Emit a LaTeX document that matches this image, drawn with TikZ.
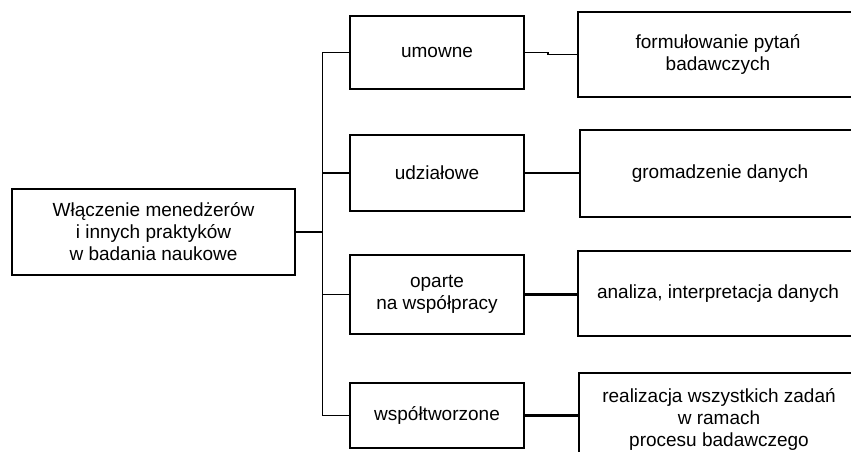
\documentclass[tikz,border=0pt]{standalone}
\usepackage{fontspec}
\setmainfont{Liberation Sans}
\begin{document}
\begin{tikzpicture}[x=1pt,y=-1pt,
    box/.style={draw, line width=1.8pt, align=center, inner sep=0pt,
      font=\fontsize{19}{22}\selectfont},
    thin link/.style={line width=1.5pt},
    thick link/.style={line width=2.4pt}]
      \clip (0,0) rectangle (851,452);
      \node[box, minimum width=283, minimum height=86] (main) at (153.5,232) {Włączenie menedżerów\\ i innych praktyków\\ w badania naukowe};
      \node[box, minimum width=174, minimum height=73] (um) at (437,52.5) {umowne};
      \node[box, minimum width=174, minimum height=76] (ud) at (437,173) {udziałowe};
      \node[box, minimum width=174, minimum height=79] (op) at (437,294.5) {oparte\\ na współpracy};
      \node[box, minimum width=174, minimum height=65] (ws) at (437,415.5) {współtworzone};
      \node[box, minimum width=280, minimum height=85] (r1) at (718,54.5) {formułowanie pytań\\ badawczych};
      \node[box, minimum width=280, minimum height=87] (r2) at (720,173.5) {gromadzenie danych};
      \node[box, minimum width=280, minimum height=85] (r3) at (718,293.5) {analiza, interpretacja danych};
      \node[box, minimum width=280, minimum height=92] (r4) at (719,419) {realizacja wszystkich zadań\\ w ramach\\ procesu badawczego};
      \coordinate (top) at (322.5,52.5); \coordinate (bot) at (322.5,415.5);
      \draw[thin link] (um.west) -- (top) -- (bot) -- (ws.west);
      \draw[thin link] (main.east) -- (main.east -| top);
      \draw[thin link] (ud.west) -- (ud.west -| top);
      \draw[thin link] (op.west) -- (op.west -| top);
      \draw[thin link] (um.east) -- ++(23,0) |- (r1.west);
      \draw[thick link] (ud.east) -- (ud.east -| r2.west);
      \draw[thick link] (op.east) -- (op.east -| r3.west);
      \draw[thick link] (ws.east) -- (ws.east -| r4.west);
    \end{tikzpicture}
\end{document}
